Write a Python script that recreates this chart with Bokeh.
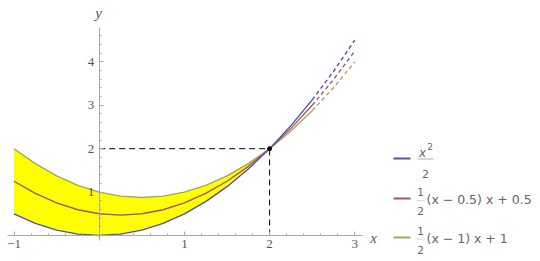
from bokeh.plotting import figure
from bokeh.models import LinearAxis, FixedTicker, Label
from bokeh.core.properties import value
from bokeh.embed import file_html
from bokeh.resources import INLINE

# ---- data ----
x_vals = [-1.0, -0.75, -0.5, -0.25, 0.0, 0.25, 0.5, 0.75, 1.0, 1.25, 1.5, 1.75, 2.0, 2.25, 2.5, 2.75, 3.0]
y_sq = [0.5, 0.28125, 0.125, 0.03125, 0.0, 0.03125, 0.125, 0.28125, 0.5, 0.78125, 1.125, 1.53125, 2.0, 2.53125, 3.125, 3.78125, 4.5]
y_mid = [1.25, 0.96875, 0.75, 0.59375, 0.5, 0.46875, 0.5, 0.59375, 0.75, 0.96875, 1.25, 1.59375, 2.0, 2.46875, 3.0, 3.59375, 4.25]
y_top = [2.0, 1.65625, 1.375, 1.15625, 1.0, 0.90625, 0.875, 0.90625, 1.0, 1.15625, 1.375, 1.65625, 2.0, 2.40625, 2.875, 3.40625, 4.0]
series_colors = ["#5252a6", "#a2557a", "#a6a656"]
point_x = [2.0]
point_y = [2.0]
fill_end = 2.0
solid_end = 2.5
x_ticks = [-1, 1, 2, 3]
x_tick_labels = ["\u22121", "1", "2", "3"]
y_ticks = [1, 2, 3, 4]
y_tick_labels = ["1", "2", "3", "4"]
x_minor = [round(-1.0 + 0.2 * i, 1) for i in range(21)]
y_minor = [round(0.2 * i, 1) for i in range(24)]

# ---- pixel mapping ----
X0, SX = 98.7, 85.2
Y0, SY = 235.0, 43.4
W, H = 540, 261

def dx(px):
    return (px - X0) / SX

def dy(py):
    return (Y0 - py) / SY

p = figure(width=W, height=H, x_range=(dx(0), dx(W)), y_range=(dy(H), dy(0)),
           toolbar_location=None, output_backend="svg", min_border=0,
           x_axis_location=None, y_axis_location=None)
p.grid.visible = False
p.outline_line_color = None
p.background_fill_color = "white"

axis_col = "#a8a8a8"
label_col = "#555555"
serif = "Liberation Serif"

xa = LinearAxis(fixed_location=0, ticker=FixedTicker(ticks=x_ticks, minor_ticks=x_minor),
                bounds=(-1.08, 3.09))
xa.major_label_overrides = {t: l for t, l in zip(x_ticks, x_tick_labels)}
ya = LinearAxis(fixed_location=0, ticker=FixedTicker(ticks=y_ticks, minor_ticks=y_minor),
                bounds=(-0.12, 4.8))
ya.major_label_overrides = {t: l for t, l in zip(y_ticks, y_tick_labels)}
for ax in (xa, ya):
    ax.axis_line_color = axis_col
    ax.major_tick_line_color = axis_col
    ax.minor_tick_line_color = axis_col
    ax.major_tick_in = 4
    ax.major_tick_out = 0
    ax.minor_tick_in = 2
    ax.minor_tick_out = 0
    ax.major_label_text_font = serif
    ax.major_label_text_font_size = "13px"
    ax.major_label_text_color = label_col
xa.major_label_standoff = 4
ya.major_label_standoff = 5
p.add_layout(xa, "below")
p.add_layout(ya, "left")

# fill between x^2/2 and 1/2(x-1)x+1
nf = x_vals.index(fill_end) + 1
p.varea(x=x_vals[:nf], y1=y_sq[:nf], y2=y_top[:nf], fill_color="#ffff00")

ns = x_vals.index(solid_end)
for ys, col in zip([y_top, y_mid, y_sq], series_colors[::-1]):
    p.line(x_vals[:ns + 1], ys[:ns + 1], line_color=col, line_width=1.4)
    p.line(x_vals[ns:], ys[ns:], line_color=col, line_width=1.4, line_dash="4 3")

# reference lines
p.line([0, point_x[0]], [point_y[0], point_y[0]], line_color="black", line_dash="6 4", line_width=1)
p.line([point_x[0], point_x[0]], [0, point_y[0]], line_color="black", line_dash="6 4", line_width=1)
p.scatter(point_x, point_y, size=4, color="black")

# axis labels
p.add_layout(Label(x=dx(373), y=dy(237), text="x", text_font=serif, text_font_style="italic",
                   text_font_size="15px", text_color=label_col, text_align="center",
                   text_baseline="middle"))
p.add_layout(Label(x=dx(98), y=dy(12), text="y", text_font=serif, text_font_style="italic",
                   text_font_size="15px", text_color=label_col, text_align="center",
                   text_baseline="middle"))

# legend (manual, to render fractions)
sans = "DejaVu Sans"
leg_col = "#666666"
sw_y = [158, 198, 237]
for yy, col in zip(sw_y, series_colors):
    p.segment(x0=[dx(393)], y0=[dy(yy)], x1=[dx(410)], y1=[dy(yy)], line_color=col, line_width=2.2)

def txt(px, py, s, size="10px", style="normal", align="center"):
    p.text(x=[dx(px)], y=[dy(py)], text=[s], text_font=value(sans), text_font_size=value(size),
           text_font_style=style, text_color=leg_col, text_align=align, text_baseline="middle")

# entry 1: x^2 / 2
txt(422, 152, "x", "12px", "italic")
txt(429.5, 146, "2", "9px")
p.segment(x0=[dx(417)], y0=[dy(158.5)], x1=[dx(433)], y1=[dy(158.5)], line_color="#999999", line_width=0.8)
txt(425, 173, "2", "11px")
# entry 2
txt(420, 191.5, "1", "10.5px")
p.segment(x0=[dx(416)], y0=[dy(200)], x1=[dx(424)], y1=[dy(200)], line_color="#bbbbbb", line_width=0.6)
txt(420, 210, "2", "10.5px")
txt(426, 199, "(x \u2212 0.5) x + 0.5", "12.5px", align="left")
# entry 3
txt(420, 230, "1", "10.5px")
p.segment(x0=[dx(416)], y0=[dy(238.5)], x1=[dx(424)], y1=[dy(238.5)], line_color="#bbbbbb", line_width=0.6)
txt(420, 249, "2", "10.5px")
txt(426, 238, "(x \u2212 1) x + 1", "12.5px", align="left")

open("out.html", "w").write(file_html(p, INLINE))
